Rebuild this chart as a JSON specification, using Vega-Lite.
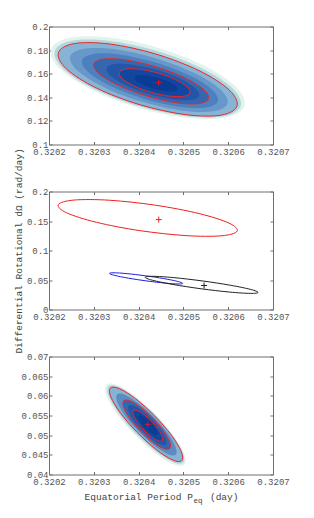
{
"$schema": "https://vega.github.io/schema/vega-lite/v6.json",
"background": "white",
"padding": {"left": 12, "top": 21.5, "right": 5, "bottom": 5},
"bounds": "flush",
"spacing": 47,
"resolve": {"scale": {"color": "independent"}},
"config": {
  "font": "Liberation Mono",
  "view": {"stroke": "#6e6e6e", "strokeWidth": 1},
  "axis": {"labelFont": "Liberation Mono", "titleFont": "Liberation Mono", "labelFontSize": 9, "titleFontSize": 9.5, "labelColor": "#555555", "titleColor": "#444444", "titleFontWeight": "normal", "tickColor": "#6e6e6e", "domain": false, "grid": false, "labelFlush": false, "labelOverlap": false, "tickSize": -3, "labelPadding": 4},
  "axisX": {"labelPadding": 6}
},
"datasets": {
"p1": [
{"s":"a0","i":0,"x":0.3206362,"y":0.13268},{"s":"a0","i":1,"x":0.3205970,"y":0.12307},{"s":"a0","i":2,"x":0.3205105,"y":0.12245},{"s":"a0","i":3,"x":0.3203999,"y":0.13099},{"s":"a0","i":4,"x":0.3202947,"y":0.14639},{"s":"a0","i":5,"x":0.3202233,"y":0.16453},{"s":"a0","i":6,"x":0.3202046,"y":0.18056},{"s":"a0","i":7,"x":0.3202438,"y":0.19017},{"s":"a0","i":8,"x":0.3203303,"y":0.19079},{"s":"a0","i":9,"x":0.3204409,"y":0.18225},{"s":"a0","i":10,"x":0.3205461,"y":0.16685},{"s":"a0","i":11,"x":0.3206176,"y":0.14871},
{"s":"a1","i":0,"x":0.3206280,"y":0.13268},{"s":"a1","i":1,"x":0.3205908,"y":0.12399},{"s":"a1","i":2,"x":0.3205080,"y":0.12385},{"s":"a1","i":3,"x":0.3204017,"y":0.13231},{"s":"a1","i":4,"x":0.3203004,"y":0.14709},{"s":"a1","i":5,"x":0.3202313,"y":0.16424},{"s":"a1","i":6,"x":0.3202128,"y":0.17916},{"s":"a1","i":7,"x":0.3202500,"y":0.18785},{"s":"a1","i":8,"x":0.3203329,"y":0.18798},{"s":"a1","i":9,"x":0.3204392,"y":0.17952},{"s":"a1","i":10,"x":0.3205405,"y":0.16474},{"s":"a1","i":11,"x":0.3206096,"y":0.14760},
{"s":"a2","i":0,"x":0.3206198,"y":0.13267},{"s":"a2","i":1,"x":0.3205846,"y":0.12490},{"s":"a2","i":2,"x":0.3205054,"y":0.12525},{"s":"a2","i":3,"x":0.3204034,"y":0.13363},{"s":"a2","i":4,"x":0.3203060,"y":0.14779},{"s":"a2","i":5,"x":0.3202392,"y":0.16394},{"s":"a2","i":6,"x":0.3202210,"y":0.17775},{"s":"a2","i":7,"x":0.3202562,"y":0.18552},{"s":"a2","i":8,"x":0.3203354,"y":0.18517},{"s":"a2","i":9,"x":0.3204374,"y":0.17679},{"s":"a2","i":10,"x":0.3205348,"y":0.16263},{"s":"a2","i":11,"x":0.3206016,"y":0.14648},
{"s":"a3","i":0,"x":0.3205985,"y":0.13474},{"s":"a3","i":1,"x":0.3205676,"y":0.12814},{"s":"a3","i":2,"x":0.3204980,"y":0.12865},{"s":"a3","i":3,"x":0.3204083,"y":0.13613},{"s":"a3","i":4,"x":0.3203224,"y":0.14857},{"s":"a3","i":5,"x":0.3202635,"y":0.16263},{"s":"a3","i":6,"x":0.3202473,"y":0.17456},{"s":"a3","i":7,"x":0.3202782,"y":0.18115},{"s":"a3","i":8,"x":0.3203478,"y":0.18064},{"s":"a3","i":9,"x":0.3204375,"y":0.17316},{"s":"a3","i":10,"x":0.3205234,"y":0.16073},{"s":"a3","i":11,"x":0.3205823,"y":0.14666},
{"s":"a4","i":0,"x":0.3205772,"y":0.13680},{"s":"a4","i":1,"x":0.3205507,"y":0.13139},{"s":"a4","i":2,"x":0.3204907,"y":0.13206},{"s":"a4","i":3,"x":0.3204131,"y":0.13863},{"s":"a4","i":4,"x":0.3203389,"y":0.14934},{"s":"a4","i":5,"x":0.3202878,"y":0.16132},{"s":"a4","i":6,"x":0.3202736,"y":0.17136},{"s":"a4","i":7,"x":0.3203001,"y":0.17678},{"s":"a4","i":8,"x":0.3203601,"y":0.17611},{"s":"a4","i":9,"x":0.3204377,"y":0.16954},{"s":"a4","i":10,"x":0.3205119,"y":0.15882},{"s":"a4","i":11,"x":0.3205630,"y":0.14685},
{"s":"a5","i":0,"x":0.3205559,"y":0.13887},{"s":"a5","i":1,"x":0.3205337,"y":0.13463},{"s":"a5","i":2,"x":0.3204833,"y":0.13546},{"s":"a5","i":3,"x":0.3204180,"y":0.14113},{"s":"a5","i":4,"x":0.3203553,"y":0.15012},{"s":"a5","i":5,"x":0.3203121,"y":0.16001},{"s":"a5","i":6,"x":0.3202999,"y":0.16817},{"s":"a5","i":7,"x":0.3203221,"y":0.17241},{"s":"a5","i":8,"x":0.3203725,"y":0.17158},{"s":"a5","i":9,"x":0.3204378,"y":0.16591},{"s":"a5","i":10,"x":0.3205005,"y":0.15692},{"s":"a5","i":11,"x":0.3205437,"y":0.14703},
{"s":"a6","i":0,"x":0.3205353,"y":0.14141},{"s":"a6","i":1,"x":0.3205173,"y":0.13778},{"s":"a6","i":2,"x":0.3204766,"y":0.13823},{"s":"a6","i":3,"x":0.3204238,"y":0.14262},{"s":"a6","i":4,"x":0.3203731,"y":0.14979},{"s":"a6","i":5,"x":0.3203382,"y":0.15779},{"s":"a6","i":6,"x":0.3203284,"y":0.16451},{"s":"a6","i":7,"x":0.3203463,"y":0.16813},{"s":"a6","i":8,"x":0.3203871,"y":0.16769},{"s":"a6","i":9,"x":0.3204399,"y":0.16329},{"s":"a6","i":10,"x":0.3204906,"y":0.15613},{"s":"a6","i":11,"x":0.3205254,"y":0.14812},
{"s":"a7","i":0,"x":0.3205146,"y":0.14394},{"s":"a7","i":1,"x":0.3205009,"y":0.14093},{"s":"a7","i":2,"x":0.3204698,"y":0.14099},{"s":"a7","i":3,"x":0.3204295,"y":0.14411},{"s":"a7","i":4,"x":0.3203908,"y":0.14945},{"s":"a7","i":5,"x":0.3203643,"y":0.15557},{"s":"a7","i":6,"x":0.3203568,"y":0.16084},{"s":"a7","i":7,"x":0.3203705,"y":0.16385},{"s":"a7","i":8,"x":0.3204016,"y":0.16379},{"s":"a7","i":9,"x":0.3204419,"y":0.16067},{"s":"a7","i":10,"x":0.3204806,"y":0.15533},{"s":"a7","i":11,"x":0.3205071,"y":0.14921},
{"s":"a8","i":0,"x":0.3204875,"y":0.14676},{"s":"a8","i":1,"x":0.3204791,"y":0.14504},{"s":"a8","i":2,"x":0.3204601,"y":0.14514},{"s":"a8","i":3,"x":0.3204354,"y":0.14704},{"s":"a8","i":4,"x":0.3204117,"y":0.15022},{"s":"a8","i":5,"x":0.3203953,"y":0.15382},{"s":"a8","i":6,"x":0.3203907,"y":0.15690},{"s":"a8","i":7,"x":0.3203991,"y":0.15862},{"s":"a8","i":8,"x":0.3204181,"y":0.15852},{"s":"a8","i":9,"x":0.3204428,"y":0.15662},{"s":"a8","i":10,"x":0.3204665,"y":0.15344},{"s":"a8","i":11,"x":0.3204829,"y":0.14984}
],
"p2": [
{"s":"k","i":0,"x":0.3206667,"y":0.02892},{"s":"k","i":1,"x":0.3206492,"y":0.02731},{"s":"k","i":2,"x":0.3206027,"y":0.02958},{"s":"k","i":3,"x":0.3205394,"y":0.03513},{"s":"k","i":4,"x":0.3204765,"y":0.04246},{"s":"k","i":5,"x":0.3204308,"y":0.04961},{"s":"k","i":6,"x":0.3204145,"y":0.05468},{"s":"k","i":7,"x":0.3204320,"y":0.05629},{"s":"k","i":8,"x":0.3204785,"y":0.05402},{"s":"k","i":9,"x":0.3205418,"y":0.04847},{"s":"k","i":10,"x":0.3206047,"y":0.04114},{"s":"k","i":11,"x":0.3206504,"y":0.03399}
],
"p3": [
{"s":"b0","i":0,"x":0.3205022,"y":0.042502},{"s":"b0","i":1,"x":0.3204785,"y":0.042576},{"s":"b0","i":2,"x":0.3204380,"y":0.045355},{"s":"b0","i":3,"x":0.3203913,"y":0.050092},{"s":"b0","i":4,"x":0.3203510,"y":0.055521},{"s":"b0","i":5,"x":0.3203279,"y":0.060184},{"s":"b0","i":6,"x":0.3203282,"y":0.062834},{"s":"b0","i":7,"x":0.3203519,"y":0.062760},{"s":"b0","i":8,"x":0.3203924,"y":0.059981},{"s":"b0","i":9,"x":0.3204391,"y":0.055244},{"s":"b0","i":10,"x":0.3204794,"y":0.049815},{"s":"b0","i":11,"x":0.3205025,"y":0.045152},
{"s":"b1","i":0,"x":0.3204993,"y":0.043002},{"s":"b1","i":1,"x":0.3204772,"y":0.043132},{"s":"b1","i":2,"x":0.3204389,"y":0.045829},{"s":"b1","i":3,"x":0.3203943,"y":0.050370},{"s":"b1","i":4,"x":0.3203556,"y":0.055537},{"s":"b1","i":5,"x":0.3203330,"y":0.059947},{"s":"b1","i":6,"x":0.3203327,"y":0.062418},{"s":"b1","i":7,"x":0.3203547,"y":0.062288},{"s":"b1","i":8,"x":0.3203931,"y":0.059590},{"s":"b1","i":9,"x":0.3204376,"y":0.055050},{"s":"b1","i":10,"x":0.3204764,"y":0.049882},{"s":"b1","i":11,"x":0.3204989,"y":0.045473},
{"s":"b2","i":0,"x":0.3204963,"y":0.043501},{"s":"b2","i":1,"x":0.3204759,"y":0.043688},{"s":"b2","i":2,"x":0.3204396,"y":0.046305},{"s":"b2","i":3,"x":0.3203973,"y":0.050648},{"s":"b2","i":4,"x":0.3203600,"y":0.055555},{"s":"b2","i":5,"x":0.3203381,"y":0.059710},{"s":"b2","i":6,"x":0.3203371,"y":0.062001},{"s":"b2","i":7,"x":0.3203575,"y":0.061814},{"s":"b2","i":8,"x":0.3203938,"y":0.059197},{"s":"b2","i":9,"x":0.3204361,"y":0.054854},{"s":"b2","i":10,"x":0.3204734,"y":0.049947},{"s":"b2","i":11,"x":0.3204953,"y":0.045792},
{"s":"b3","i":0,"x":0.3204829,"y":0.045043},{"s":"b3","i":1,"x":0.3204657,"y":0.045153},{"s":"b3","i":2,"x":0.3204355,"y":0.047289},{"s":"b3","i":3,"x":0.3204005,"y":0.050877},{"s":"b3","i":4,"x":0.3203700,"y":0.054956},{"s":"b3","i":5,"x":0.3203524,"y":0.058432},{"s":"b3","i":6,"x":0.3203520,"y":0.060376},{"s":"b3","i":7,"x":0.3203693,"y":0.060266},{"s":"b3","i":8,"x":0.3203994,"y":0.058130},{"s":"b3","i":9,"x":0.3204344,"y":0.054543},{"s":"b3","i":10,"x":0.3204649,"y":0.050463},{"s":"b3","i":11,"x":0.3204826,"y":0.046987},
{"s":"b4","i":0,"x":0.3204695,"y":0.046585},{"s":"b4","i":1,"x":0.3204554,"y":0.046618},{"s":"b4","i":2,"x":0.3204314,"y":0.048272},{"s":"b4","i":3,"x":0.3204038,"y":0.051105},{"s":"b4","i":4,"x":0.3203800,"y":0.054356},{"s":"b4","i":5,"x":0.3203666,"y":0.057154},{"s":"b4","i":6,"x":0.3203669,"y":0.058751},{"s":"b4","i":7,"x":0.3203811,"y":0.058718},{"s":"b4","i":8,"x":0.3204051,"y":0.057064},{"s":"b4","i":9,"x":0.3204327,"y":0.054231},{"s":"b4","i":10,"x":0.3204565,"y":0.050980},{"s":"b4","i":11,"x":0.3204699,"y":0.048182},
{"s":"b5","i":0,"x":0.3204610,"y":0.047585},{"s":"b5","i":1,"x":0.3204495,"y":0.047606},{"s":"b5","i":2,"x":0.3204298,"y":0.048948},{"s":"b5","i":3,"x":0.3204074,"y":0.051255},{"s":"b5","i":4,"x":0.3203881,"y":0.053907},{"s":"b5","i":5,"x":0.3203774,"y":0.056193},{"s":"b5","i":6,"x":0.3203777,"y":0.057501},{"s":"b5","i":7,"x":0.3203894,"y":0.057481},{"s":"b5","i":8,"x":0.3204089,"y":0.056138},{"s":"b5","i":9,"x":0.3204313,"y":0.053831},{"s":"b5","i":10,"x":0.3204506,"y":0.051179},{"s":"b5","i":11,"x":0.3204615,"y":0.048894},
{"s":"b6","i":0,"x":0.3204525,"y":0.048585},{"s":"b6","i":1,"x":0.3204435,"y":0.048593},{"s":"b6","i":2,"x":0.3204283,"y":0.049624},{"s":"b6","i":3,"x":0.3204111,"y":0.051406},{"s":"b6","i":4,"x":0.3203963,"y":0.053458},{"s":"b6","i":5,"x":0.3203881,"y":0.055231},{"s":"b6","i":6,"x":0.3203885,"y":0.056251},{"s":"b6","i":7,"x":0.3203975,"y":0.056243},{"s":"b6","i":8,"x":0.3204127,"y":0.055212},{"s":"b6","i":9,"x":0.3204300,"y":0.053431},{"s":"b6","i":10,"x":0.3204447,"y":0.051378},{"s":"b6","i":11,"x":0.3204529,"y":0.049605},
{"s":"b7","i":0,"x":0.3204413,"y":0.050084},{"s":"b7","i":1,"x":0.3204355,"y":0.050081},{"s":"b7","i":2,"x":0.3204256,"y":0.050749},{"s":"b7","i":3,"x":0.3204144,"y":0.051909},{"s":"b7","i":4,"x":0.3204048,"y":0.053249},{"s":"b7","i":5,"x":0.3203995,"y":0.054411},{"s":"b7","i":6,"x":0.3203997,"y":0.055084},{"s":"b7","i":7,"x":0.3204056,"y":0.055087},{"s":"b7","i":8,"x":0.3204154,"y":0.054419},{"s":"b7","i":9,"x":0.3204266,"y":0.053259},{"s":"b7","i":10,"x":0.3204362,"y":0.051919},{"s":"b7","i":11,"x":0.3204416,"y":0.050757}
],
"c": [
{"p":1,"c":"r","x":0.320445,"y":0.15239},
{"p":2,"c":"r","x":0.320445,"y":0.15239},
{"p":2,"c":"k","x":0.3205462,"y":0.0407},
{"p":3,"c":"r","x":0.3204204,"y":0.05267}
]
},
"vconcat": [
{
 "width": 224, "height": 118,
 "resolve": {"axis": {"x": "independent", "y": "independent"}},
 "layer": [
  {"data": {"name": "p1"},
   "mark": {"type": "line", "filled": true, "interpolate": "cardinal-closed"},
   "encoding": {
     "x": {"field": "x", "type": "quantitative", "scale": {"domain": [0.3202, 0.3207], "nice": false, "zero": false}, "axis": {"values": [0.3202, 0.3203, 0.3204, 0.3205, 0.3206, 0.3207], "format": ".4f", "title": null}},
     "y": {"field": "y", "type": "quantitative", "scale": {"domain": [0.1, 0.2], "nice": false, "zero": false}, "axis": {"values": [0.1, 0.12, 0.14, 0.16, 0.18, 0.2], "format": ".2~f", "title": null}},
     "color": {"field": "s", "type": "nominal", "legend": null, "scale": {"domain": ["a0","a1","a2","a3","a4","a5","a6","a7","a8"], "range": ["#e1f3eb","#b3d7de","#87b4d5","#6898c9","#4d80be","#3567b1","#2356a8","#1247a0","#0a3c96"]}},
     "order": {"field": "i", "type": "quantitative"}
   }},
  {"data": {"name": "p1"},
   "transform": [{"filter": {"field": "s", "oneOf": ["a2", "a5", "a7"]}}],
   "mark": {"type": "line", "interpolate": "cardinal-closed", "color": "#e8262b", "strokeWidth": 1},
   "encoding": {
     "x": {"field": "x", "type": "quantitative", "axis": null},
     "y": {"field": "y", "type": "quantitative", "axis": null},
     "detail": {"field": "s", "type": "nominal"},
     "order": {"field": "i", "type": "quantitative"}
   }},
  {"data": {"name": "c"},
   "transform": [{"filter": "datum.p == 1"}],
   "mark": {"type": "point", "shape": "M-1,0L1,0M0,-1L0,1", "size": 36, "filled": false, "color": "#ee1111", "strokeWidth": 1, "opacity": 1},
   "encoding": {
     "x": {"field": "x", "type": "quantitative", "axis": {"orient": "top", "labels": false, "title": null, "values": [0.3202, 0.3203, 0.3204, 0.3205, 0.3206, 0.3207]}},
     "y": {"field": "y", "type": "quantitative", "axis": {"orient": "right", "labels": false, "title": null, "values": [0.1, 0.12, 0.14, 0.16, 0.18, 0.2]}}
   }}
 ]
},
{
 "width": 224, "height": 118,
 "resolve": {"axis": {"x": "independent", "y": "independent"}},
 "layer": [
  {"data": {"name": "p1"},
   "transform": [{"filter": {"field": "s", "equal": "a2"}}],
   "mark": {"type": "line", "interpolate": "cardinal-closed", "color": "#ee2020", "strokeWidth": 1},
   "encoding": {
     "x": {"field": "x", "type": "quantitative", "scale": {"domain": [0.3202, 0.3207], "nice": false, "zero": false}, "axis": {"values": [0.3202, 0.3203, 0.3204, 0.3205, 0.3206, 0.3207], "format": ".4f", "title": null}},
     "y": {"field": "y", "type": "quantitative", "scale": {"domain": [0, 0.2], "nice": false, "zero": false}, "axis": {"values": [0, 0.05, 0.1, 0.15, 0.2], "format": ".2~f", "title": "Differential Rotational dΩ (rad/day)", "titlePadding": 3}},
     "order": {"field": "i", "type": "quantitative"}
   }},
  {"data": {"name": "p3"},
   "transform": [{"filter": {"field": "s", "equal": "b2"}}],
   "mark": {"type": "line", "interpolate": "cardinal-closed", "color": "#2020e0", "strokeWidth": 1},
   "encoding": {
     "x": {"field": "x", "type": "quantitative", "axis": null},
     "y": {"field": "y", "type": "quantitative", "axis": null},
     "order": {"field": "i", "type": "quantitative"}
   }},
  {"data": {"name": "p2"},
   "mark": {"type": "line", "interpolate": "cardinal-closed", "color": "#222222", "strokeWidth": 1},
   "encoding": {
     "x": {"field": "x", "type": "quantitative", "axis": null},
     "y": {"field": "y", "type": "quantitative", "axis": null},
     "order": {"field": "i", "type": "quantitative"}
   }},
  {"data": {"name": "c"},
   "transform": [{"filter": "datum.p == 2"}],
   "mark": {"type": "point", "shape": "M-1,0L1,0M0,-1L0,1", "size": 36, "filled": false, "strokeWidth": 1, "opacity": 1},
   "encoding": {
     "x": {"field": "x", "type": "quantitative", "axis": {"orient": "top", "labels": false, "title": null, "values": [0.3202, 0.3203, 0.3204, 0.3205, 0.3206, 0.3207]}},
     "y": {"field": "y", "type": "quantitative", "axis": {"orient": "right", "labels": false, "title": null, "values": [0, 0.05, 0.1, 0.15, 0.2]}},
     "color": {"field": "c", "type": "nominal", "legend": null, "scale": {"domain": ["k", "r"], "range": ["#222222", "#ee2020"]}}
   }}
 ]
},
{
 "width": 224, "height": 118,
 "resolve": {"axis": {"x": "independent", "y": "independent"}},
 "layer": [
  {"data": {"name": "p3"},
   "mark": {"type": "line", "filled": true, "interpolate": "cardinal-closed"},
   "encoding": {
     "x": {"field": "x", "type": "quantitative", "scale": {"domain": [0.3202, 0.3207], "nice": false, "zero": false}, "axis": {"values": [0.3202, 0.3203, 0.3204, 0.3205, 0.3206, 0.3207], "format": ".4f", "title": "Equatorial Period P\u00a0\u00a0\u00a0(day)", "titlePadding": 5}},
     "y": {"field": "y", "type": "quantitative", "scale": {"domain": [0.04, 0.07], "nice": false, "zero": false}, "axis": {"values": [0.04, 0.045, 0.05, 0.055, 0.06, 0.065, 0.07], "format": ".3~f", "title": null}},
     "color": {"field": "s", "type": "nominal", "legend": null, "scale": {"domain": ["b0","b1","b2","b3","b4","b5","b6","b7"], "range": ["#e1f3eb","#b3d7de","#87b4d5","#5a8cc3","#3567b1","#2356a8","#1247a0","#0a3c96"]}},
     "order": {"field": "i", "type": "quantitative"}
   }},
  {"data": {"name": "p3"},
   "transform": [{"filter": {"field": "s", "oneOf": ["b2", "b4", "b6"]}}],
   "mark": {"type": "line", "interpolate": "cardinal-closed", "color": "#e8262b", "strokeWidth": 1},
   "encoding": {
     "x": {"field": "x", "type": "quantitative", "axis": {"orient": "bottom", "labels": false, "ticks": false, "title": "eq", "titleFontSize": 7.5, "titleX": 148.5, "titleY": 26, "titleAlign": "center", "titleBaseline": "middle", "titleAngle": 0}},
     "y": {"field": "y", "type": "quantitative", "axis": null},
     "detail": {"field": "s", "type": "nominal"},
     "order": {"field": "i", "type": "quantitative"}
   }},
  {"data": {"name": "c"},
   "transform": [{"filter": "datum.p == 3"}],
   "mark": {"type": "point", "shape": "M-1,0L1,0M0,-1L0,1", "size": 36, "filled": false, "color": "#ee1111", "strokeWidth": 1, "opacity": 1},
   "encoding": {
     "x": {"field": "x", "type": "quantitative", "axis": {"orient": "top", "labels": false, "title": null, "values": [0.3202, 0.3203, 0.3204, 0.3205, 0.3206, 0.3207]}},
     "y": {"field": "y", "type": "quantitative", "axis": {"orient": "right", "labels": false, "title": null, "values": [0.04, 0.045, 0.05, 0.055, 0.06, 0.065, 0.07]}}
   }}
 ]
}
]
}
